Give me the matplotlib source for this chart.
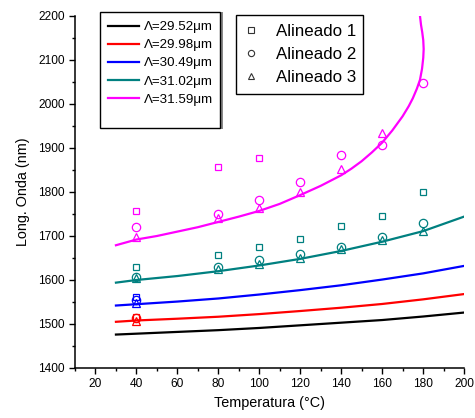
import matplotlib
matplotlib.use("Agg")
import matplotlib.pyplot as plt
from matplotlib.patches import Rectangle
from matplotlib.lines import Line2D

plt.rcParams['font.family'] = ['Liberation Sans', 'DejaVu Sans']

# curvas teóricas (longitud de onda vs temperatura) para cada periodo
t_curve = [30, 40, 60, 80, 100, 120, 140, 160, 180, 200]
lam_2952 = [1476, 1478, 1482, 1486, 1491, 1497, 1503, 1509, 1517, 1526]
lam_2998 = [1505, 1508, 1512, 1516.5, 1522.5, 1529.5, 1537, 1545.5, 1556, 1568]
lam_3049 = [1542, 1545, 1551, 1558, 1567, 1577, 1588, 1601, 1615, 1632]
lam_3102 = [1594, 1600, 1609, 1620, 1633, 1648, 1666, 1687, 1711, 1744]

# la curva de 31.59 um se dobla cerca de 180 C
t_curve_3159 = [30, 40, 50, 60, 70, 80, 90, 100, 110, 120, 130, 140, 145, 150,
                155, 160, 165, 170, 173, 175, 177, 178.5, 179.5, 180.1, 180.3,
                180.1, 179.6, 179.0, 178.5, 178.0]
lam_3159 = [1679, 1692, 1700, 1710, 1720, 1732, 1744, 1757, 1773, 1793, 1814,
            1838, 1853, 1870, 1890, 1912, 1940, 1972, 1995, 2013, 2035, 2055,
            2080, 2105, 2125, 2145, 2163, 2180, 2200, 2215]

periodos = ["29.52", "29.98", "30.49", "31.02", "31.59"]
colores = ["#000000", "#FF0000", "#0000FF", "#008080", "#FF00FF"]

# medidas experimentales
t_40 = [40]
t_mag_sq = [40, 80, 100]
t_med = [40, 80, 100, 120, 140, 160, 180]
t_mag_tri = [40, 80, 100, 120, 140, 160]

mag_al1 = [1756, 1857, 1877]
mag_al2 = [1721, 1750, 1782, 1822, 1885, 1907, 2047]
mag_al3 = [1697, 1742, 1763, 1801, 1852, 1935]

teal_al1 = [1629.5, 1657.5, 1675, 1693, 1723, 1745.5, 1801]
teal_al2 = [1607.5, 1629, 1645, 1659, 1676, 1698, 1729]
teal_al3 = [1604, 1624, 1636, 1651, 1670, 1692, 1712]

blue_al1 = [1562]
blue_al2 = [1554]
blue_al3 = [1548]

red_al1 = [1516]
red_al2 = [1513]
red_al3 = [1507]

fig = plt.figure(figsize=(4.75, 4.18), dpi=100)
ax = fig.add_axes([75 / 475, 1 - 368 / 418, 389 / 475, 352 / 418])

curvas = [(t_curve, lam_2952), (t_curve, lam_2998), (t_curve, lam_3049),
          (t_curve, lam_3102), (t_curve_3159, lam_3159)]
handles_curvas = []
for (tt, ll), p, c in zip(curvas, periodos, colores):
    h, = ax.plot(tt, ll, color=c, lw=1.6, solid_joinstyle='round',
                 label="\u039b=" + p + "\u03bcm")
    handles_curvas.append(h)

mk = dict(ls='none', mfc='none', mew=0.9)
def puntos(t1, y1, t2, y2, t3, y3, c):
    ax.plot(t1, y1, marker='s', ms=5, mec=c, **mk)
    ax.plot(t2, y2, marker='o', ms=6, mec=c, **mk)
    ax.plot(t3, y3, marker='^', ms=5.5, mec=c, **mk)

puntos(t_40, red_al1, t_40, red_al2, t_40, red_al3, colores[1])
puntos(t_40, blue_al1, t_40, blue_al2, t_40, blue_al3, colores[2])
puntos(t_med, teal_al1, t_med, teal_al2, t_med, teal_al3, colores[3])
puntos(t_mag_sq, mag_al1, t_med, mag_al2, t_mag_tri, mag_al3, colores[4])

ax.set_xlim(10, 200)
ax.set_ylim(1400, 2200)
ax.set_xticks(range(20, 201, 20))
ax.set_xticks(range(10, 201, 10), minor=True)
ax.set_yticks(range(1400, 2201, 100))
ax.set_yticks(range(1400, 2201, 50), minor=True)
for s in ['top', 'right']:
    ax.spines[s].set_visible(False)
for s in ['left', 'bottom']:
    ax.spines[s].set_linewidth(1.1)
ax.tick_params(which='major', direction='out', length=4.5, width=1, labelsize=8.6, pad=3)
ax.tick_params(which='minor', direction='out', length=2.5, width=1)
ax.set_xlabel("Temperatura (°C)", fontsize=10.4, labelpad=4)
ax.set_ylabel("Long. Onda (nm)", fontsize=10.4, labelpad=6)

# leyenda de periodos
fig.patches.append(Rectangle((101.5 / 475, 1 - 129 / 418), 121 / 475, 117 / 418,
                             transform=fig.transFigure, facecolor='#888888',
                             edgecolor='none', zorder=5))
fig.patches.append(Rectangle((100 / 475, 1 - 127.5 / 418), 120 / 475, 115.5 / 418,
                             transform=fig.transFigure, facecolor='white',
                             edgecolor='black', lw=1, zorder=6))
leg1 = fig.legend(handles=handles_curvas, loc='upper left',
                  bbox_to_anchor=(108 / 475, 1 - 21 / 418), frameon=False,
                  fontsize=9.6, borderpad=0, borderaxespad=0, handlelength=2.33,
                  handletextpad=0.38, labelspacing=0.43)
leg1.set_zorder(7)

# leyenda de alineados
fig.patches.append(Rectangle((235.7 / 475, 1 - 94 / 418), 127.6 / 475, 79 / 418,
                             transform=fig.transFigure, facecolor='white',
                             edgecolor='black', lw=1, zorder=6))
gris = '#333333'
handles_al = [Line2D([], [], ls='none', marker='s', ms=4.3, mfc='none', mec=gris, mew=0.8),
              Line2D([], [], ls='none', marker='o', ms=4.5, mfc='none', mec=gris, mew=0.8),
              Line2D([], [], ls='none', marker='^', ms=5, mfc='none', mec=gris, mew=0.8)]
leg2 = fig.legend(handles=handles_al, labels=["Alineado 1", "Alineado 2", "Alineado 3"],
                  loc='upper left', bbox_to_anchor=(244.2 / 475, 1 - 24 / 418),
                  frameon=False, fontsize=12.2, borderpad=0, borderaxespad=0,
                  handlelength=0.8, handletextpad=1.08, labelspacing=0.47)
leg2.set_zorder(7)

fig.savefig("out.png", dpi=100)
